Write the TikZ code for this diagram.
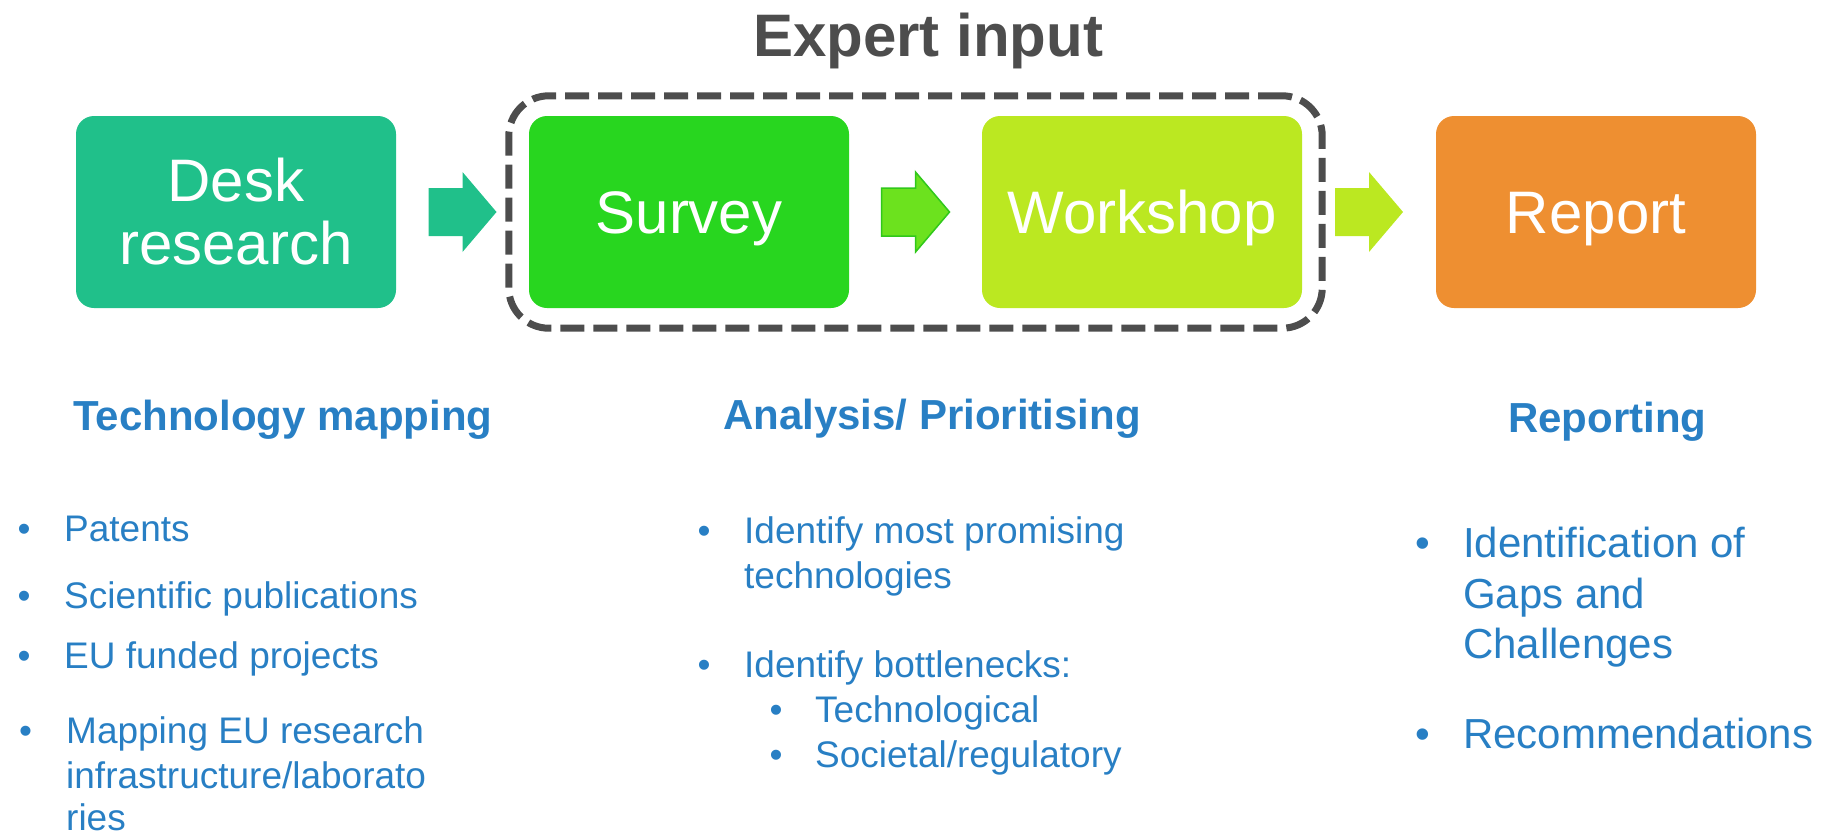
\documentclass[tikz,border=0pt]{standalone}
\usepackage{fontspec}
\setmainfont{Liberation Sans}
\usetikzlibrary{fit,calc}

\definecolor{deskgreen}{RGB}{32,192,138}
\definecolor{surveygreen}{RGB}{40,214,31}
\definecolor{workshoplime}{RGB}{187,232,33}
\definecolor{reportorange}{RGB}{238,143,49}
\definecolor{arrowgreen}{RGB}{108,226,30}
\definecolor{arrowedge}{RGB}{48,200,26}
\definecolor{framegray}{RGB}{77,77,77}
\definecolor{textblue}{RGB}{40,127,196}

\tikzset{
  stepbox/.style={rounded corners=18pt, minimum width=320pt, minimum height=192pt,
    inner sep=0pt, text=white, align=center, font=\fontsize{60}{63}\selectfont},
  oneline/.style={text height=43pt, text depth=0pt},
  expertframe/.style={draw=framegray, line width=7pt, dash pattern=on 24pt off 9pt,
    rounded corners=40pt, inner sep=20pt},
  titletext/.style={anchor=base, inner sep=0pt, text=framegray, font=\bfseries\fontsize{60}{72}\selectfont},
  heading/.style={anchor=base west, inner sep=0pt, text=textblue, font=\bfseries\fontsize{42}{50}\selectfont},
  itemtext/.style={anchor=base west, inner sep=0pt, text=textblue, font=\fontsize{37}{45}\selectfont},
  bigitem/.style={anchor=base west, inner sep=0pt, text=textblue, font=\fontsize{42}{50}\selectfont},
  pics/blockarrow/.style={code={
    \path[pic actions] (-34,-24) -- (0,-24) -- (0,-40) -- (34,0) -- (0,40) -- (0,24) -- (-34,24) -- cycle;}}
}

\begin{document}
\begin{tikzpicture}[x=1pt,y=1pt,yscale=-1]
\useasboundingbox (0,0) rectangle (1823,836);

% Text Node
\node[titletext] (title) at (928,56) {Expert input};

%Shape: Rounded Rect
\node[stepbox, fill=deskgreen] (desk) at (236,212) {Desk\\research};
\node[stepbox, oneline, fill=surveygreen] (survey) at (689,212) {Survey};
\node[stepbox, oneline, fill=workshoplime] (workshop) at (1142,212) {Workshop};
\node[stepbox, oneline, fill=reportorange] (report) at (1596,212) {Report};

%Shape: Dashed frame
\node[expertframe, fit=(survey)(workshop)] (expert) {};

%Shape: Right Arrow
\pic[fill=deskgreen] at ($(desk.east)!0.5!(survey.west)$) {blockarrow};
\pic[fill=arrowgreen, draw=arrowedge, line width=1.5pt] at ($(survey.east)!0.5!(workshop.west)$) {blockarrow};
\pic[fill=workshoplime] at ($(workshop.east)!0.5!(report.west)$) {blockarrow};

% Text Node
\node[heading] (mapping) at (73,430) {Technology mapping};
\node[heading] (analysis) at (723,429) {Analysis/ Prioritising};
\node[heading] (reporting) at (1508,432) {Reporting};

% Text Node
\node[itemtext] (b1) at (17.5,541) {\textbullet};
\node[itemtext] (patents) at (64,541) {Patents};
\node[itemtext] (b2) at (17.5,608) {\textbullet};
\node[itemtext] (pubs) at (64,608) {Scientific publications};
\node[itemtext] (b3) at (17.5,668) {\textbullet};
\node[itemtext] (projects) at (64,668) {EU funded projects};
\node[itemtext] (b4) at (19,743) {\textbullet};
\node[itemtext] (infra1) at (66,743) {Mapping EU research};
\node[itemtext] (infra2) at (66,788) {infrastructure/laborato};
\node[itemtext] (infra3) at (66,830) {ries};

% Text Node
\node[itemtext] (b5) at (697.5,543) {\textbullet};
\node[itemtext] (prom1) at (744,543) {Identify most promising};
\node[itemtext] (prom2) at (744,588) {technologies};
\node[itemtext] (b6) at (697.5,677) {\textbullet};
\node[itemtext] (bottle) at (744,677) {Identify bottlenecks:};
\node[itemtext] (b7) at (769.5,722) {\textbullet};
\node[itemtext] (techno) at (815,722) {Technological};
\node[itemtext] (b8) at (769.5,767) {\textbullet};
\node[itemtext] (societal) at (815,767) {Societal/regulatory};

% Text Node
\node[bigitem] (b9) at (1415.5,557) {\textbullet};
\node[bigitem] (gaps1) at (1463,557) {Identification of};
\node[bigitem] (gaps2) at (1463,608) {Gaps and};
\node[bigitem] (gaps3) at (1463,658) {Challenges};
\node[bigitem] (b10) at (1415.5,748) {\textbullet};
\node[bigitem] (recom) at (1463,748) {Recommendations};
\end{tikzpicture}
\end{document}
